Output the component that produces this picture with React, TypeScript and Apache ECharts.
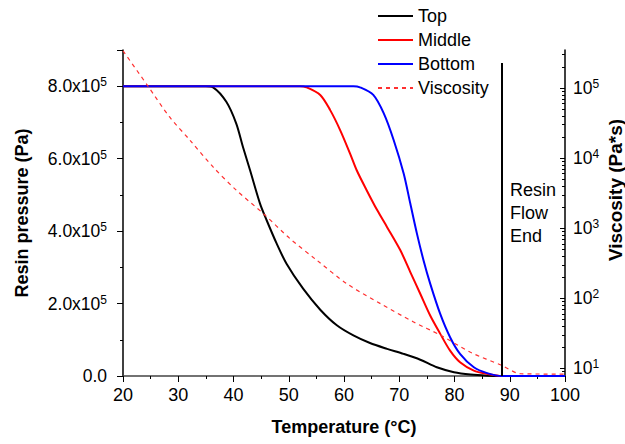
import React, { useEffect, useRef } from "react";
import * as echarts from "echarts";

const FONT = "'Liberation Sans', Arial, sans-serif";

// Temperature (°C) and resin pressure (×1e5 Pa)
const topT = [20, 35, 36.3, 38.7, 40.5, 41.7, 43.0, 44.8, 46.0, 47.8, 49.6, 52.6, 55.7, 58.7, 61.7, 64.7, 67.8, 70.8, 73.8, 76.8, 79.9, 82.9, 85.9, 88.6, 100];
const topP = [8, 8, 7.97, 7.57, 6.97, 6.33, 5.68, 4.76, 4.3, 3.66, 3.1, 2.41, 1.83, 1.4, 1.12, 0.91, 0.75, 0.61, 0.45, 0.24, 0.105, 0.04, 0.01, 0, 0];

const midT = [20, 52, 53.2, 55.7, 57.5, 59.3, 61.1, 62.3, 64.1, 66.0, 67.8, 70.2, 72.0, 73.8, 75.6, 77.4, 79.2, 81.0, 83.5, 85.9, 88.6, 100];
const midP = [8, 8, 7.97, 7.76, 7.34, 6.79, 6.14, 5.68, 5.13, 4.58, 4.11, 3.47, 2.87, 2.27, 1.67, 1.17, 0.7, 0.38, 0.15, 0.06, 0, 0];

const botT = [20, 61.7, 62.9, 65.3, 67.2, 69.0, 70.8, 72.0, 73.2, 74.4, 75.6, 77.4, 79.2, 81.0, 83.5, 85.9, 88.6, 100];
const botP = [8, 8, 7.97, 7.76, 7.25, 6.51, 5.59, 4.76, 3.93, 3.19, 2.55, 1.72, 1.07, 0.61, 0.24, 0.08, 0, 0];

// Viscosity (Pa*s)
const visT = [20, 24.5, 28.4, 32.1, 36.3, 40.5, 45.4, 50.2, 55.1, 60.5, 66.6, 72.6, 77.4, 82.9, 88.6, 92, 100];
const visV = [340000, 107000, 39000, 18100, 7500, 3490, 1620, 713, 349, 162, 84, 46, 30, 17, 11, 8.4, 8.3];

const flowEndT = 88.6;
const flowEndTop = 8.64e5;

const xTicks = { min: 20, max: 100, interval: 10 };
const leftAxis = { min: 0, max: 9e5, interval: 2e5 };
const rightAxis = { min: 7.8, max: 3.49e5 };
const rightMajor = [10, 100, 1000, 10000, 100000];
const rightMinor: number[] = [];
[1, 10, 100, 1000, 10000, 100000].forEach((d) => {
  for (let k = 2; k <= 9; k++) rightMinor.push(k * d);
});

const pairs = (xs: number[], ys: number[], scale = 1) => xs.map((x, i) => [x, ys[i] * scale]);

export default function App() {
  const ref = useRef<HTMLDivElement>(null);
  useEffect(() => {
    document.body.style.margin = "0";
    if (!ref.current) return;
    const chart = echarts.init(ref.current, undefined, { renderer: "svg" });
    const lineCommon = { type: "line", symbol: "none", smooth: 0.3 };
    const nameStyle = { fontSize: 18, fontWeight: "bold", fontFamily: FONT, color: "#000" };
    const supRich = {
      a: { fontSize: 17.5, color: "#000", fontFamily: FONT, lineHeight: 20 },
      s: { fontSize: 12, color: "#000", fontFamily: FONT, verticalAlign: "top", lineHeight: 12 },
    };
    chart.setOption({
      animation: false,
      backgroundColor: "#fff",
      textStyle: { fontFamily: FONT },
      grid: { left: 123, right: 60, top: 50, bottom: 68, outerBoundsMode: "none", containLabel: false },
      legend: {
        orient: "vertical",
        left: 377,
        top: 7,
        padding: 0,
        itemWidth: 35,
        itemHeight: 14,
        itemGap: 6,
        data: ["Top", "Middle", "Bottom", "Viscosity"],
        itemStyle: { color: "rgba(0,0,0,0)", borderWidth: 0, borderColor: "rgba(0,0,0,0)" },
        textStyle: { fontSize: 18, fontFamily: FONT, color: "#000", lineHeight: 17 },
      },
      xAxis: {
        type: "value",
        ...xTicks,
        name: "Temperature (°C)",
        nameLocation: "middle",
        nameGap: 42,
        nameTextStyle: nameStyle,
        axisLine: { onZero: false, lineStyle: { color: "#444", width: 1.5 } },
        axisTick: { length: 6, lineStyle: { color: "#000" } },
        minorTick: { show: true, splitNumber: 2, length: 3, lineStyle: { color: "#000" } },
        axisLabel: { fontSize: 18, color: "#000", margin: 10, fontFamily: FONT },
        splitLine: { show: false },
      },
      yAxis: [
        {
          type: "value",
          ...leftAxis,
          position: "left",
          name: "Resin pressure (Pa)",
          nameLocation: "middle",
          nameGap: 92,
          nameTextStyle: nameStyle,
          axisLine: { show: true, onZero: false, lineStyle: { color: "#000", width: 1.5 } },
          axisTick: { length: 6, lineStyle: { color: "#000" } },
          minorTick: { show: true, splitNumber: 2, length: 3, lineStyle: { color: "#000" } },
          splitLine: { show: false },
          axisLabel: {
            margin: 16,
            showMaxLabel: false,
            formatter: (v: number) => (v === 0 ? "{a|0.0}" : `{a|${(v / 1e5).toFixed(1)}x10}{s|5}`),
            rich: supRich,
          },
        },
        {
          type: "log",
          logBase: 10,
          ...rightAxis,
          position: "right",
          axisLine: { show: true, lineStyle: { color: "#000", width: 1.5 } },
          axisTick: { inside: true, length: 5, customValues: rightMajor, lineStyle: { color: "#000" } },
          splitLine: { show: false },
          axisLabel: {
            margin: 8,
            customValues: rightMajor,
            formatter: (v: number) => `{a|10}{s|${Math.round(Math.log10(v))}}`,
            rich: supRich,
          },
        },
        {
          type: "log",
          logBase: 10,
          ...rightAxis,
          position: "right",
          axisLine: { show: false },
          axisTick: { show: true, inside: true, length: 3, customValues: rightMinor, lineStyle: { color: "#000" } },
          axisLabel: { show: false },
          splitLine: { show: false },
        },
      ],
      series: [
        {
          ...lineCommon,
          name: "Top",
          data: pairs(topT, topP, 1e5),
          lineStyle: { color: "#000", width: 2 },
          itemStyle: { color: "#000" },
          markLine: {
            silent: true,
            symbol: "none",
            label: { show: false },
            lineStyle: { color: "#000", width: 2, type: "solid" },
            data: [[{ coord: [flowEndT, 0] }, { coord: [flowEndT, flowEndTop] }]],
          },
        },
        {
          ...lineCommon,
          name: "Middle",
          data: pairs(midT, midP, 1e5),
          lineStyle: { color: "#ff0000", width: 2 },
          itemStyle: { color: "#ff0000" },
        },
        {
          ...lineCommon,
          name: "Bottom",
          data: pairs(botT, botP, 1e5),
          lineStyle: { color: "#0000ff", width: 2 },
          itemStyle: { color: "#0000ff" },
        },
        {
          ...lineCommon,
          name: "Viscosity",
          yAxisIndex: 1,
          data: pairs(visT, visV),
          lineStyle: { color: "#ff3030", width: 1.2, type: [4, 4] },
          itemStyle: { color: "#ff3030" },
        },
      ],
      graphic: [
        {
          type: "text",
          left: 510,
          top: 178,
          style: { text: "Resin\nFlow\nEnd", font: `18px ${FONT}`, lineHeight: 23, fill: "#000" },
        },
        {
          type: "text",
          x: 615,
          y: 190,
          rotation: Math.PI / 2,
          style: {
            text: "Viscosity (Pa*s)",
            font: `bold 19px ${FONT}`,
            align: "center",
            verticalAlign: "middle",
            fill: "#000",
          },
        },
      ],
    });
    return () => chart.dispose();
  }, []);
  return <div ref={ref} style={{ width: 625, height: 444 }} />;
}
